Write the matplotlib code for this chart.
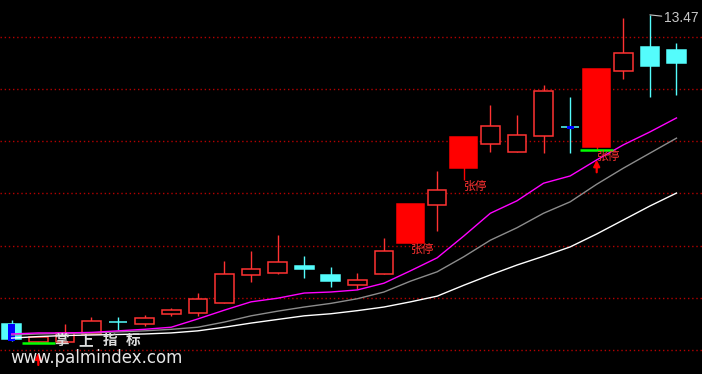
import matplotlib
matplotlib.use("Agg")
import matplotlib.pyplot as plt
from matplotlib.patches import Rectangle

# daily bars (price units)
opens = [7.50, 7.15, 7.15, 7.31, 7.55, 7.50, 7.69, 7.71, 7.91, 8.45, 8.49, 8.62, 8.45,
         8.25, 8.47, 9.07, 9.80, 10.51, 10.98, 10.82, 11.13, 11.31, 10.92, 12.39, 12.85, 12.79]
highs = [7.58, 7.26, 7.50, 7.64, 7.64, 7.68, 7.81, 8.10, 8.72, 8.91, 9.22, 8.81, 8.60,
         8.49, 9.16, 9.82, 10.46, 11.11, 11.73, 11.54, 12.12, 11.88, 12.42, 13.41, 13.47, 12.93]
lows = [7.17, 7.14, 7.14, 7.31, 7.39, 7.46, 7.66, 7.66, 7.91, 8.31, 8.47, 8.39, 8.22,
        8.18, 8.47, 9.07, 9.30, 10.28, 10.82, 10.82, 10.80, 10.80, 10.86, 12.23, 11.88, 11.92]
closes = [7.21, 7.25, 7.33, 7.56, 7.54, 7.62, 7.77, 7.98, 8.47, 8.56, 8.70, 8.56, 8.33,
          8.35, 8.91, 9.82, 10.09, 11.11, 11.32, 11.15, 12.00, 11.30, 12.42, 12.73, 12.48, 12.54]

# moving averages
ma_fast = [7.31, 7.33, 7.33, 7.34, 7.37, 7.40, 7.44, 7.60, 7.77, 7.93, 8.00, 8.10, 8.12,
           8.16, 8.29, 8.53, 8.78, 9.20, 9.64, 9.88, 10.22, 10.36, 10.67, 10.96, 11.21, 11.48]
ma_mid = [7.29, 7.31, 7.32, 7.33, 7.35, 7.37, 7.40, 7.44, 7.54, 7.66, 7.75, 7.83, 7.90,
          7.99, 8.12, 8.33, 8.51, 8.80, 9.12, 9.36, 9.64, 9.86, 10.20, 10.51, 10.80, 11.09]
ma_slow = [7.23, 7.26, 7.28, 7.29, 7.30, 7.31, 7.33, 7.37, 7.44, 7.52, 7.59, 7.66, 7.70,
           7.76, 7.83, 7.93, 8.04, 8.25, 8.45, 8.64, 8.81, 8.99, 9.24, 9.51, 9.78, 10.03]

# signals
limit_up_days = [15, 17, 22]
limit_up_label = "张停"
buy_days = [1, 22]
blue_marks = [(0, 7.17, 7.50), (21, 11.27, 11.33)]
grid_levels = [7.00, 8.00, 9.01, 10.03, 11.03, 12.04, 13.04]
peak_day = 24
peak_label = "13.47"

RED = "#ff3232"
RED_FILL = "#ff0000"
CYAN = "#54fcfc"

fig = plt.figure(figsize=(7.02, 3.74), dpi=100, facecolor="black")
ax = fig.add_axes([0, 0, 1, 1])
ax.set_facecolor("black")
ax.set_xlim(-0.44, 25.96)
ax.set_ylim(6.537, 13.757)
ax.axis("off")

for lvl in grid_levels:
    ax.axhline(lvl, color="#b40000", lw=1.0, linestyle=(0, (1, 2)), zorder=1)

for i, (o, h, l, c) in enumerate(zip(opens, highs, lows, closes)):
    top, bot = max(o, c), min(o, c)
    if i in limit_up_days:
        color, face, width = RED_FILL, RED_FILL, 1.0
    elif c >= o:
        color, face, width = RED, "black", 0.70
    else:
        color, face, width = CYAN, CYAN, 0.70
    ax.vlines(i, l, h, color=color, lw=1.0, zorder=2)
    ax.add_patch(Rectangle((i - width / 2, bot), width, max(top - bot, 0.01),
                           facecolor=face, edgecolor=color, lw=1.1, zorder=3))

for i, lo, hi in blue_marks:
    ax.add_patch(Rectangle((i - 0.13, lo), 0.26, hi - lo, facecolor="#0000ff",
                           edgecolor="none", zorder=4))

x = list(range(len(closes)))
ax.plot(x, ma_slow, color="white", lw=1.0, zorder=5)
ax.plot(x, ma_mid, color="#8c8c8c", lw=1.0, zorder=5)
ax.plot(x, ma_fast, color="#ff00ff", lw=1.0, zorder=5)

for i in buy_days:
    ax.hlines(lows[i], i - 0.62, i + 0.62, color="#00ff00", lw=1.8, zorder=6)
    ax.annotate("", xy=(i, lows[i]), xytext=(0, -16), textcoords="offset points",
                arrowprops=dict(arrowstyle="-|>", color=RED_FILL, lw=1.6,
                                shrinkA=0, shrinkB=7, mutation_scale=9), zorder=6)

for i in limit_up_days:
    ax.text(i, lows[i], limit_up_label, color=RED, fontsize=8.5, ha="left", va="top",
            family=["Noto Sans CJK SC", "DejaVu Sans"], zorder=7)

ax.annotate(peak_label, xy=(peak_day, highs[peak_day]), xytext=(10.5, -2.5),
            textcoords="offset points", color="#c8c8c8", fontsize=10, va="center",
            family=["Liberation Sans Narrow", "Liberation Sans", "DejaVu Sans"],
            arrowprops=dict(arrowstyle="-", color="#c8c8c8", lw=0.8, shrinkA=0, shrinkB=0),
            zorder=7)

# indicator name and watermark
for ch, px in zip("掌上指标", [61.5, 86, 110, 133.5]):
    fig.text(px / 702, (374 - 340) / 374, ch, color="#dcdcdc", fontsize=10.5,
             fontweight="bold", ha="center", va="center",
             family=["Noto Sans CJK SC", "DejaVu Sans"], zorder=8)
fig.text(10 / 702, (374 - 363) / 374, "www.palmindex.com", color="#e6e6e6",
         fontsize=12, ha="left", va="baseline", family="DejaVu Sans", zorder=8)

fig.savefig("out.png", dpi=100, facecolor="black")
